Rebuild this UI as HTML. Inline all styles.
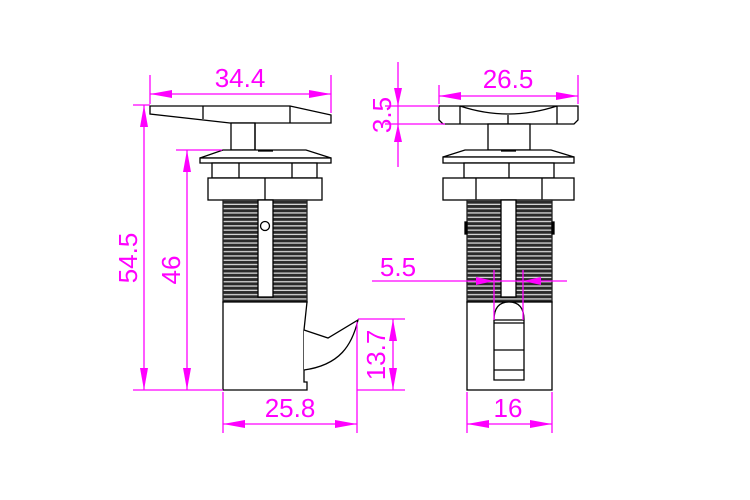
<!DOCTYPE html>
<html><head><style>
html,body{margin:0;padding:0;background:#fff}
svg{display:block}
text{font-family:"Liberation Sans",sans-serif;fill:#ff00ff;font-size:26px}
</style></head><body>
<svg width="750" height="500" viewBox="0 0 750 500" xmlns="http://www.w3.org/2000/svg">
<defs>
<pattern id="thr" width="10" height="4.3" patternUnits="userSpaceOnUse">
<rect width="10" height="4.3" fill="#2a2a2a"/>
<rect y="1.6" width="10" height="1.3" fill="#d8d8d8"/>
</pattern>
</defs>
<g fill="none" stroke="#000" stroke-width="1.3">
<!-- LEFT VIEW -->
<path d="M150,106 L290,106 L331,115 L331,123 L230,123 L150,114 Z" fill="#fff"/>
<line x1="203" y1="106" x2="203" y2="119"/>
<line x1="290" y1="106" x2="290" y2="123"/>
<rect x="231" y="123" width="24" height="27" fill="#fff"/>
<line x1="255" y1="123" x2="255" y2="150"/>
<path d="M223,150 L306,150 L331,158 L200,158 Z" fill="#fff"/>
<line x1="258" y1="151" x2="273" y2="151"/>
<rect x="200" y="158" width="131" height="5" fill="#fff"/>
<rect x="212" y="163" width="105" height="15" fill="#fff"/>
<line x1="239" y1="163" x2="239" y2="178"/>
<line x1="292" y1="163" x2="292" y2="178"/>
<rect x="208" y="178" width="114" height="22" fill="#fff"/>
<line x1="265" y1="178" x2="265" y2="200"/>
<rect x="223" y="200" width="84" height="102" fill="url(#thr)" stroke="#222"/>
<rect x="258" y="200" width="15" height="97" fill="#fff"/>
<circle cx="265" cy="226" r="4.5" fill="#fff"/>
<path d="M223,302 L307,302 L304,330 L304,382 L307,382 L307,390 L223,390 Z" fill="#fff"/>
<path d="M304,330 L328,338 L358,320 C352,345 340,365 304,370" fill="#fff"/>
<!-- RIGHT VIEW -->
<path d="M439,106 L578,106 L578,120 L574,124 L443,124 L439,120 Z" fill="#fff"/>
<line x1="460" y1="106" x2="460" y2="124"/>
<line x1="557" y1="106" x2="557" y2="124"/>
<path d="M460,106 Q508,122 557,106"/>
<line x1="508" y1="115" x2="508" y2="124"/>
<rect x="488" y="124" width="42" height="26" fill="#fff"/>
<path d="M465,150 L551,150 L574,157 L443,157 Z" fill="#fff"/>
<line x1="501" y1="151" x2="516" y2="151"/>
<rect x="443" y="157" width="131" height="6" fill="#fff"/>
<rect x="464" y="163" width="90" height="15" fill="#fff"/>
<line x1="509" y1="163" x2="509" y2="178"/>
<rect x="443" y="178" width="131" height="22" fill="#fff"/>
<line x1="476" y1="178" x2="476" y2="200"/>
<line x1="542" y1="178" x2="542" y2="200"/>
<rect x="467" y="200" width="85" height="102" fill="url(#thr)" stroke="#222"/>
<rect x="501" y="200" width="15" height="97" fill="#fff"/>
<rect x="465" y="222" width="2" height="12" fill="#000"/>
<rect x="552" y="222" width="2" height="12" fill="#000"/>
<rect x="467" y="302" width="85" height="88" fill="#fff"/>
<path d="M494,320 Q494,302 509,302 Q524,302 524,320 L524,380 L494,380 Z" fill="#fff"/>
<line x1="494" y1="320" x2="524" y2="320"/>
<line x1="494" y1="323" x2="524" y2="323"/>
<line x1="494" y1="350" x2="524" y2="350"/>
<line x1="494" y1="370" x2="524" y2="370"/>
</g>
<!-- DIMENSIONS -->
<g stroke="#ff00ff" stroke-width="1.3" fill="none">
<!-- 34.4 -->
<line x1="150" y1="75" x2="150" y2="104"/><line x1="331" y1="75" x2="331" y2="113"/>
<line x1="150" y1="94" x2="331" y2="94"/>
<!-- 54.5 -->
<line x1="133" y1="105" x2="150" y2="105"/><line x1="133" y1="390" x2="223" y2="390"/>
<line x1="144" y1="105" x2="144" y2="390"/>
<!-- 46 -->
<line x1="176" y1="150" x2="222" y2="150"/>
<line x1="187" y1="150" x2="187" y2="390"/>
<!-- 25.8 -->
<line x1="223" y1="392" x2="223" y2="433"/><line x1="357" y1="322" x2="357" y2="433"/>
<line x1="223" y1="424" x2="357" y2="424"/>
<!-- 13.7 -->
<line x1="358" y1="319" x2="405" y2="319"/><line x1="357" y1="390" x2="405" y2="390"/>
<line x1="393" y1="319" x2="393" y2="390"/>
<!-- 26.5 -->
<line x1="439" y1="85" x2="439" y2="104"/><line x1="578" y1="75" x2="578" y2="104"/>
<line x1="439" y1="96" x2="578" y2="96"/>
<!-- 3.5 -->
<line x1="385" y1="106" x2="439" y2="106"/><line x1="385" y1="124" x2="445" y2="124"/>
<line x1="398" y1="62" x2="398" y2="167"/>
<!-- 5.5 -->
<line x1="372" y1="281" x2="567" y2="281"/>
<line x1="494" y1="270" x2="494" y2="320"/><line x1="523" y1="270" x2="523" y2="320"/>
<!-- 16 -->
<line x1="467" y1="392" x2="467" y2="433"/><line x1="552" y1="392" x2="552" y2="433"/>
<line x1="467" y1="424" x2="552" y2="424"/>
</g>
<g fill="#ff00ff">
<!-- 34.4 -->
<path d="M150,94 l22,-4 v8z"/><path d="M331,94 l-22,-4 v8z"/>
<!-- 54.5 -->
<path d="M144,105 l-4,22 h8z"/><path d="M144,390 l-4,-22 h8z"/>
<!-- 46 -->
<path d="M187,150 l-4,22 h8z"/><path d="M187,390 l-4,-22 h8z"/>
<!-- 25.8 -->
<path d="M223,424 l22,-4 v8z"/><path d="M357,424 l-22,-4 v8z"/>
<!-- 13.7 -->
<path d="M393,319 l-4,22 h8z"/><path d="M393,390 l-4,-22 h8z"/>
<!-- 26.5 -->
<path d="M439,96 l22,-4 v8z"/><path d="M578,96 l-22,-4 v8z"/>
<!-- 3.5 -->
<path d="M398,106 l-4,-18 h8z"/><path d="M398,124 l-4,18 h8z"/>
<!-- 5.5 -->
<path d="M494,281 l-18,-4 v8z"/><path d="M523,281 l18,-4 v8z"/>
<!-- 16 -->
<path d="M467,424 l22,-4 v8z"/><path d="M552,424 l-22,-4 v8z"/>
</g>
<text x="240" y="87" text-anchor="middle">34.4</text>
<text x="508" y="88" text-anchor="middle">26.5</text>
<text x="290" y="417" text-anchor="middle">25.8</text>
<text x="508" y="417" text-anchor="middle">16</text>
<text x="398" y="276" text-anchor="middle">5.5</text>
<text transform="translate(137,258) rotate(-90)" text-anchor="middle">54.5</text>
<text transform="translate(180,270) rotate(-90)" text-anchor="middle">46</text>
<text transform="translate(385,355) rotate(-90)" text-anchor="middle">13.7</text>
<text transform="translate(391,115) rotate(-90)" text-anchor="middle">3.5</text>
</svg>
</body></html>
